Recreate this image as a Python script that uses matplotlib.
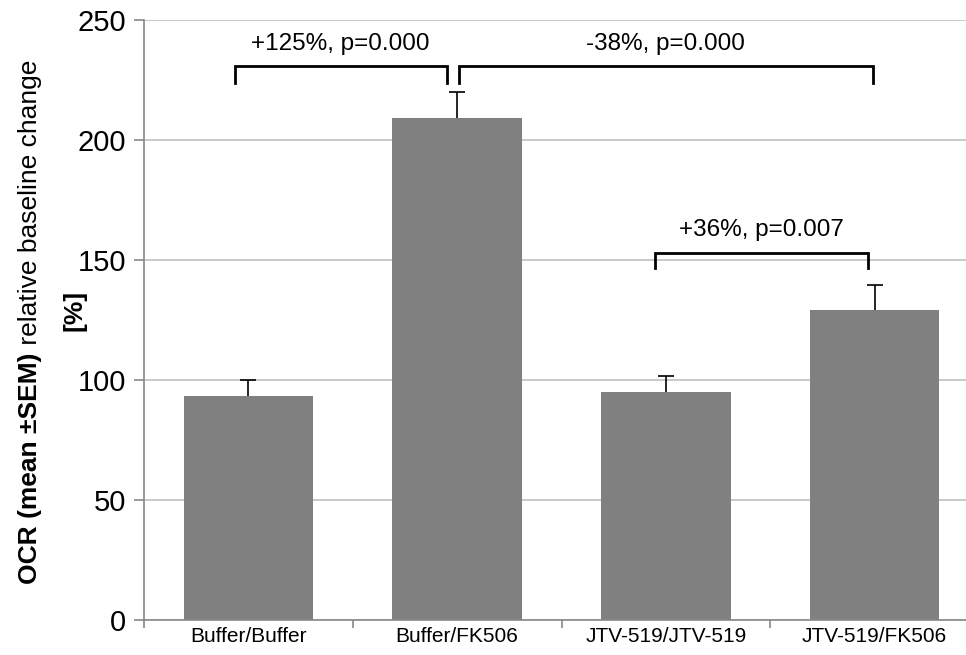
import numpy as np
import matplotlib.pyplot as plt

groups = ['Buffer/Buffer', 'Buffer/FK506', 'JTV-519/JTV-519', 'JTV-519/FK506']
means = [93.3, 209.0, 95.0, 129.0]
sems = [6.5, 11.0, 6.5, 10.5]

# comparison brackets: (x start, x end, top, leg bottom, label, label y)
brackets = [
    (-0.065, 0.95, 230.8, 223.8, '+125%, p=0.000', 235.5),
    (1.007, 2.99, 230.8, 223.8, '-38%, p=0.000', 235.5),
    (1.95, 2.97, 152.9, 146.7, '+36%, p=0.007', 157.8),
]

plt.rcParams['font.family'] = ['Liberation Sans', 'DejaVu Sans']

fig = plt.figure(figsize=(9.66, 6.55), dpi=100)
ax = fig.add_axes([144/966, 1-620/655, (979-144)/966, 600/655])

x = np.arange(len(groups))
tops = np.array(means) + np.array(sems)
ax.bar(x, means, width=0.62, color='#808080', zorder=2)
ax.vlines(x, means, tops, color='black', lw=1.2, zorder=3)
ax.plot(x, tops, ls='none', marker='_', ms=11, mew=1.2, color='black', zorder=3)

for x0, x1, top, bot, label, ty in brackets:
    ax.plot([x0, x0, x1, x1], [bot, top, top, bot], color='black', lw=2,
            solid_joinstyle='miter', zorder=4, clip_on=False)
    ax.text((x0 + x1) / 2, ty, label, ha='center', va='bottom', fontsize=17.5)

ax.set_xlim(-0.5, 3.5)
ax.set_ylim(0, 250)
ax.set_yticks(np.arange(0, 251, 50))
ax.yaxis.grid(True, color='#c0c0c0', lw=1.2, zorder=0)
ax.set_axisbelow(True)
ax.set_xticks(x)
ax.set_xticklabels(groups, fontsize=15)
ax.set_xticks(np.arange(-0.5, 4.0, 1.0), minor=True)
ax.tick_params(axis='x', which='major', length=0, pad=5)
ax.tick_params(axis='x', which='minor', length=6, color='#888888', width=1.2, direction='out')
ax.tick_params(axis='y', length=7, color='#888888', width=1.2, labelsize=21, pad=6)
for s in ['top', 'right']:
    ax.spines[s].set_visible(False)
for s in ['left', 'bottom']:
    ax.spines[s].set_color('#888888')
    ax.spines[s].set_linewidth(1.2)

# y label with mixed weight
t1 = fig.text(30/966, 1-584/655, 'OCR (mean \u00b1SEM)', rotation=90, ha='center',
              va='bottom', fontsize=19, fontweight='bold')
fig.canvas.draw()
bb = t1.get_window_extent()
fig.text(30/966, bb.y1/fig.bbox.height, ' relative baseline change', rotation=90,
         ha='center', va='bottom', fontsize=19)
fig.text(75/966, 1-310/655, '[%]', rotation=90, ha='center', va='center',
         fontsize=19, fontweight='bold')

fig.savefig('out.png', dpi=100)
